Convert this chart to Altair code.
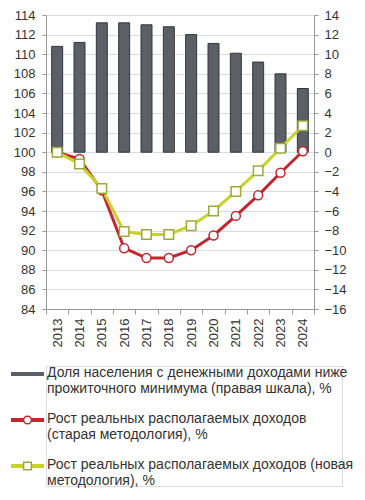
import altair as alt
import pandas as pd

years = ["2013", "2014", "2015", "2016", "2017", "2018", "2019", "2020", "2021", "2022", "2023", "2024"]
share_below_min = [10.8, 11.2, 13.2, 13.2, 13.0, 12.8, 12.0, 11.1, 10.1, 9.2, 8.0, 6.5]
income_old = [100.0, 99.3, 96.1, 90.2, 89.2, 89.2, 90.0, 91.5, 93.5, 95.6, 97.9, 100.1]
income_new = [100.0, 98.8, 96.3, 91.9, 91.6, 91.6, 92.5, 94.0, 96.0, 98.1, 100.4, 102.7]

legend_labels = [
    "Доля населения с денежными доходами ниже|прожиточного минимума (правая шкала), %",
    "Рост реальных располагаемых доходов|(старая методология), %",
    "Рост реальных располагаемых доходов (новая|методология), %",
]

RED = "#c1272d"
YEL = "#c9d32c"
YEL_EDGE = "#9bab3a"
BAR = "#5b6066"
BAR_EDGE = "#33373c"
FONT = "Liberation Sans"

bars_df = pd.DataFrame({"year": years, "share": share_below_min})
old_df = pd.DataFrame({"year": years, "v": income_old})
new_df = pd.DataFrame({"year": years, "v": income_new})

xenc = alt.X("year:O", title=None, sort=years,
             scale=alt.Scale(paddingInner=0, paddingOuter=0),
             axis=alt.Axis(labelAngle=-90, labelFontSize=13, labelColor="#333",
                           labelFont=FONT, tickBand="extent", tickColor="#999",
                           domainColor="#999", labelPadding=4, labelBaseline="middle"))

bars = alt.Chart(bars_df).mark_bar(size=11, color=BAR, stroke=BAR_EDGE, strokeWidth=1).encode(
    x=xenc,
    y=alt.Y("share:Q", title=None,
            scale=alt.Scale(domain=[-16, 14], nice=False, zero=False),
            axis=alt.Axis(orient="right", values=list(range(-16, 15, 2)), grid=False,
                          labelFontSize=13, labelColor="#333", labelFont=FONT,
                          domainColor="#999", tickColor="#999", tickSize=4, labelPadding=6)),
)

yleft = alt.Y("v:Q", title=None,
              scale=alt.Scale(domain=[84, 114], nice=False, zero=False),
              axis=alt.Axis(orient="left", values=list(range(84, 115, 2)), grid=True,
                            gridColor="#dcdcdc", labelFontSize=13, labelColor="#333",
                            labelFont=FONT, domainColor="#999", tickColor="#999",
                            tickSize=4, labelPadding=7))

old_line = alt.Chart(old_df).mark_line(color=RED, strokeWidth=3).encode(x=xenc, y=yleft)
new_line = alt.Chart(new_df).mark_line(color=YEL, strokeWidth=3).encode(x=xenc, y=yleft)
old_pts = alt.Chart(old_df).mark_point(shape="circle", size=80, filled=True, fill="white",
                                       stroke=RED, strokeWidth=1.5, opacity=1).encode(x=xenc, y=yleft)
new_pts = alt.Chart(new_df).mark_point(shape="square", size=90, filled=True, fill="white",
                                       stroke=YEL_EDGE, strokeWidth=1.5, opacity=1).encode(x=xenc, y=yleft)

lines = alt.layer(old_line, new_line, old_pts, new_pts)

main = alt.layer(bars, lines).resolve_scale(y="independent").properties(width=268, height=294)

# Legend built from data
leg_df = pd.DataFrame({
    "idx": [0, 1, 2],
    "label": legend_labels,
    "x0": [-35, -35, -35],
    "x1": [-2, -2, -2],
    "xm": [-18.5, -18.5, -18.5],
    "xt": [1, 1, 1],
    "kind": ["bar", "old", "new"],
})
lx = alt.Scale(domain=[0, 296])
ly = alt.Scale(domain=[0, 2], range=[8, 100])
lcol = alt.Scale(domain=["bar", "old", "new"], range=[BAR, RED, YEL])

leg_rule = alt.Chart(leg_df).mark_rule(strokeWidth=4).encode(
    x=alt.X("x0:Q", scale=lx, axis=None), x2="x1:Q",
    y=alt.Y("idx:Q", scale=ly, axis=None),
    color=alt.Color("kind:N", scale=lcol, legend=None),
)
leg_circ = alt.Chart(leg_df[leg_df.kind == "old"]).mark_point(
    shape="circle", size=60, filled=True, fill="white", stroke=RED, strokeWidth=1.5, opacity=1
).encode(x=alt.X("xm:Q", scale=lx, axis=None), y=alt.Y("idx:Q", scale=ly, axis=None))
leg_sq = alt.Chart(leg_df[leg_df.kind == "new"]).mark_point(
    shape="square", size=60, filled=True, fill="white", stroke=YEL_EDGE, strokeWidth=1.5, opacity=1
).encode(x=alt.X("xm:Q", scale=lx, axis=None), y=alt.Y("idx:Q", scale=ly, axis=None))
leg_text = alt.Chart(leg_df).mark_text(
    align="left", baseline="top", dy=-8, lineBreak="|", fontSize=14, font=FONT,
    color="#333", lineHeight=16
).encode(x=alt.X("xt:Q", scale=lx, axis=None), y=alt.Y("idx:Q", scale=ly, axis=None),
         text="label:N")

legend = alt.layer(leg_rule, leg_circ, leg_sq, leg_text).properties(width=296, height=120)

chart = alt.vconcat(main, legend, spacing=17).properties(padding=0).configure_view(
    stroke=None
).configure(background="white")

chart.save("out.html", embed_options={"renderer": "svg", "actions": False})
